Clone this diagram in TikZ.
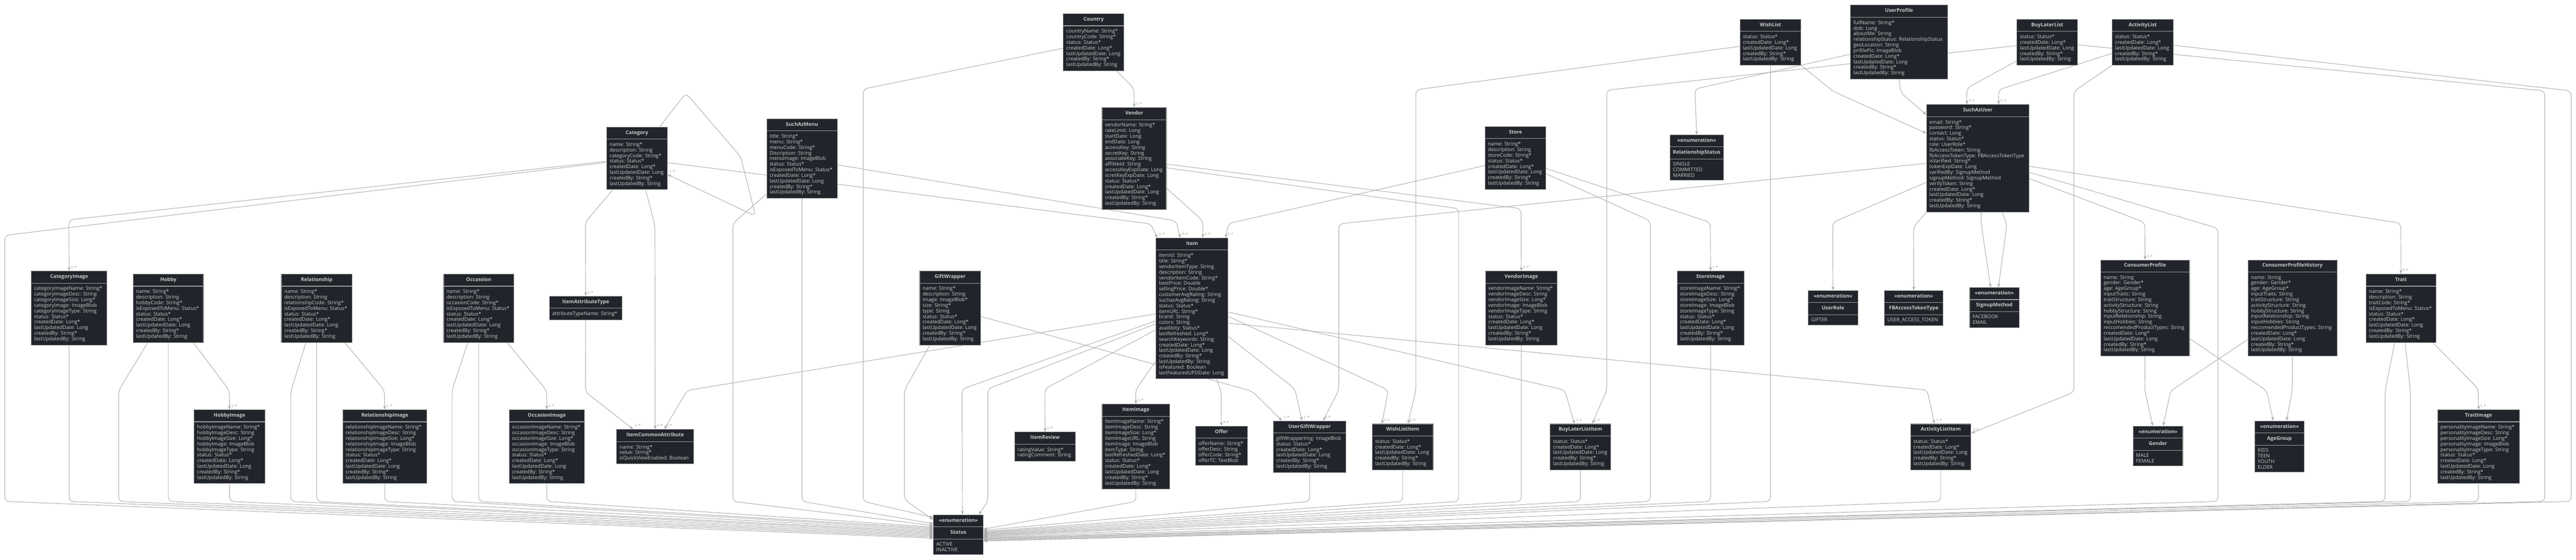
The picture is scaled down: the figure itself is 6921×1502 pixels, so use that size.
\documentclass[tikz,border=0pt]{standalone}
\usepackage{fontspec}
\setmainfont{Open Sans}
\usepackage{tikz}
\usetikzlibrary{shapes.multipart, arrows.meta, backgrounds}
\definecolor{boxfill}{HTML}{21252B}
\definecolor{boxline}{HTML}{A0A0A0}
\definecolor{boxtext}{HTML}{C9C9C9}
\definecolor{linkgray}{HTML}{A8A8A8}
\definecolor{lblgray}{HTML}{9C9C9C}

\begin{document}
\begin{tikzpicture}[x=1pt, y=-1pt,
  cls/.style={rectangle split, rectangle split parts=2,
    rectangle split part align={center,left},
    draw=boxline, line width=1.5pt, fill=boxfill, text=boxtext,
    font=\fontsize{13.5}{15}\selectfont, align=left,
    inner xsep=8pt, inner ysep=8pt, anchor=north west},
  enum/.style={cls, rectangle split parts=3,
    rectangle split part align={center,center,left}},
  link/.style={draw=linkgray, line width=1.3pt, rounded corners=12pt,
    -{Stealth[length=10pt, width=8pt, inset=3pt]}},
  lbl/.style={text=lblgray, font=\fontsize{11}{13}\selectfont,
    anchor=south west, inner sep=1pt, xshift=3pt, yshift=3pt}]

\useasboundingbox (0,0) rectangle (6921,1502);
\coordinate (rail) at (0,1346);

% menu side
\node[cls, minimum width=204pt] (catimg) at (83,727) {\textbf{\strut CategoryImage}
  \nodepart{second} categoryImageName: String*\\categoryImageDesc: String\\categoryImageSize: Long*\\categoryImage: ImageBlob\\categoryImageType: String\\status: Status*\\createdDate: Long*\\lastUpdatedDate: Long\\createdBy: String*\\lastUpdatedBy: String};
\node[cls, minimum width=189pt] (hobby) at (357,735) {\textbf{\strut Hobby}
  \nodepart{second} name: String*\\description: String\\hobbyCode: String*\\isExposedToMenu: Status*\\status: Status*\\createdDate: Long*\\lastUpdatedDate: Long\\createdBy: String*\\lastUpdatedBy: String};
\node[cls, minimum width=190pt] (rel) at (755,735) {\textbf{\strut Relationship}
  \nodepart{second} name: String*\\description: String\\relationshipCode: String*\\isExposedToMenu: Status*\\status: Status*\\createdDate: Long*\\lastUpdatedDate: Long\\createdBy: String*\\lastUpdatedBy: String};
\node[cls, minimum width=190pt] (himg) at (521,1099) {\textbf{\strut HobbyImage}
  \nodepart{second} hobbyImageName: String*\\hobbyImageDesc: String\\hobbyImageSize: Long*\\hobbyImage: ImageBlob\\hobbyImageType: String\\status: Status*\\createdDate: Long*\\lastUpdatedDate: Long\\createdBy: String*\\lastUpdatedBy: String};
\node[cls, minimum width=226pt] (rimg) at (920,1099) {\textbf{\strut RelationshipImage}
  \nodepart{second} relationshipImageName: String*\\relationshipImageDesc: String\\relationshipImageSize: Long*\\relationshipImage: ImageBlob\\relationshipImageType: String\\status: Status*\\createdDate: Long*\\lastUpdatedDate: Long\\createdBy: String*\\lastUpdatedBy: String};
\node[cls, minimum width=189pt] (occ) at (1191,735) {\textbf{\strut Occassion}
  \nodepart{second} name: String*\\description: String\\occasionCode: String*\\isExposedToMenu: Status*\\status: Status*\\createdDate: Long*\\lastUpdatedDate: Long\\createdBy: String*\\lastUpdatedBy: String};
\node[cls, minimum width=203pt] (oimg) at (1367,1099) {\textbf{\strut OccasionImage}
  \nodepart{second} occasionImageName: String*\\occasionImageDesc: String\\occasionImageSize: Long*\\occasionImage: ImageBlob\\occasionImageType: String\\status: Status*\\createdDate: Long*\\lastUpdatedDate: Long\\createdBy: String*\\lastUpdatedBy: String};
\node[cls, minimum width=163pt] (cat) at (1629,340) {\textbf{\strut Category}
  \nodepart{second} name: String*\\description: String\\categoryCode: String*\\status: Status*\\createdDate: Long*\\lastUpdatedDate: Long\\createdBy: String*\\lastUpdatedBy: String};
\node[cls, minimum width=196pt] (iat) at (1475,794) {\textbf{\strut ItemAttributeType}
  \nodepart{second} attributeTypeName: String*};
\node[cls, minimum width=207pt] (ica) at (1656,1152) {\textbf{\strut ItemCommonAttribute}
  \nodepart{second} name: String*\\value: String*\\isQuickViewEnabled: Boolean};
\node[cls, minimum width=190pt] (menu) at (2059,318) {\textbf{\strut SuchAzMenu}
  \nodepart{second} title: String*\\menu: String*\\menuCode: String*\\Discription: String\\menuImage: ImageBlob\\status: Status*\\isExposedToMenu: Status*\\createdDate: Long*\\lastUpdatedDate: Long\\createdBy: String*\\lastUpdatedBy: String};

% item side
\node[cls, minimum width=164pt] (gw) at (2470,727) {\textbf{\strut GiftWrapper}
  \nodepart{second} name: String*\\description: String\\image: ImageBlob*\\size: String*\\type: String\\status: Status*\\createdDate: Long*\\lastUpdatedDate: Long\\createdBy: String*\\lastUpdatedBy: String};
\node[cls, minimum width=163pt] (country) at (2856,36) {\textbf{\strut Country}
  \nodepart{second} countryName: String*\\countryCode: String*\\status: Status*\\createdDate: Long*\\lastUpdatedDate: Long\\createdBy: String*\\lastUpdatedBy: String};
\node[cls, minimum width=173pt] (vendor) at (2960,288) {\textbf{\strut Vendor}
  \nodepart{second} vendorName: String*\\rateLimit: Long\\startDate: Long\\endDate: Long\\accessKey: String\\secretKey: String\\associateKey: String\\affiliteId: String\\accessKeyExpDate: Long\\scretKeyExpDate: Long\\status: Status*\\createdDate: Long*\\lastUpdatedDate: Long\\createdBy: String*\\lastUpdatedBy: String};
\node[cls, minimum width=194pt] (item) at (3105,638) {\textbf{\strut Item}
  \nodepart{second} itemId: String*\\title: String*\\vendorItemType: String\\description: String\\vendorItemCode: String*\\bestPrice: Double\\sellingPrice: Double*\\customerAvgRating: String\\suchazAvgRating: String\\status: Status*\\itemURL: String*\\brand: String\\colors: String\\availibity: Status*\\lastRefreshed: Long*\\searchKeywords: String\\createdDate: Long*\\lastUpdatedDate: Long\\createdBy: String*\\lastUpdatedBy: String\\isFeatured: Boolean\\lastFeaturedUPDDate: Long};
\node[cls, minimum width=164pt] (review) at (2725,1159) {\textbf{\strut ItemReview}
  \nodepart{second} ratingValue: String*\\ratingComment: String};
\node[cls, minimum width=182pt] (itemimg) at (2960,1084) {\textbf{\strut ItemImage}
  \nodepart{second} itemImageName: String*\\itemImageDesc: String\\itemImageSize: Long*\\itemImageURL: String\\itemImage: ImageBlob\\itemType: String\\lastRefreshedDate: Long*\\status: Status*\\createdDate: Long*\\lastUpdatedDate: Long\\createdBy: String*\\lastUpdatedBy: String};
\node[cls, minimum width=140pt] (offer) at (3211,1143) {\textbf{\strut Offer}
  \nodepart{second} offerName: String*\\offerDesc: String\\offerCode: String*\\offerTC: TextBlob};
\node[cls, minimum width=196pt] (ugw) at (3420,1129) {\textbf{\strut UserGiftWrapper}
  \nodepart{second} giftWrapperImg: ImageBlob\\status: Status*\\createdDate: Long*\\lastUpdatedDate: Long\\createdBy: String*\\lastUpdatedBy: String};
\node[enum, minimum width=134pt] (status) at (2507,1381) {\textbf{\strut\textless\textless enumeration\textgreater\textgreater}
  \nodepart{second}\textbf{\strut Status} \nodepart{third} ACTIVE\\INACTIVE};
\node[cls, minimum width=164pt] (store) at (3989,339) {\textbf{\strut Store}
  \nodepart{second} name: String*\\description: String\\storeCode: String*\\status: Status*\\createdDate: Long*\\lastUpdatedDate: Long\\createdBy: String*\\lastUpdatedBy: String};
\node[cls, minimum width=193pt] (vimg) at (3990,727) {\textbf{\strut VendorImage}
  \nodepart{second} vendorImageName: String*\\vendorImageDesc: String\\vendorImageSize: Long*\\vendorImage: ImageBlob\\vendorImageType: String\\status: Status*\\createdDate: Long*\\lastUpdatedDate: Long\\createdBy: String*\\lastUpdatedBy: String};
\node[cls, minimum width=180pt] (simg) at (4505,727) {\textbf{\strut StoreImage}
  \nodepart{second} storeImageName: String*\\storeImageDesc: String\\storeImageSize: Long*\\storeImage: ImageBlob\\storeImageType: String\\status: Status*\\createdDate: Long*\\lastUpdatedDate: Long\\createdBy: String*\\lastUpdatedBy: String};
\node[cls, minimum width=164pt] (wli) at (3686,1137) {\textbf{\strut WishListItem}
  \nodepart{second} status: Status*\\createdDate: Long*\\lastUpdatedDate: Long\\createdBy: String*\\lastUpdatedBy: String};
\node[cls, minimum width=163pt] (blli) at (4164,1137) {\textbf{\strut BuyLaterListItem}
  \nodepart{second} status: Status*\\createdDate: Long*\\lastUpdatedDate: Long\\createdBy: String*\\lastUpdatedBy: String};

% user side
\node[enum, minimum width=135pt] (relstatus) at (4486,361) {\textbf{\strut\textless\textless enumeration\textgreater\textgreater}
  \nodepart{second}\textbf{\strut RelationshipStatus} \nodepart{third} SINGLE\\COMMITTED\\MARRIED};
\node[cls, minimum width=164pt] (wl) at (4674,51) {\textbf{\strut WishList}
  \nodepart{second} status: Status*\\createdDate: Long*\\lastUpdatedDate: Long\\createdBy: String*\\lastUpdatedBy: String};
\node[cls, minimum width=261pt] (up) at (4971,13) {\textbf{\strut UserProfile}
  \nodepart{second} fullName: String*\\dob: Long\\aboutMe: String\\relationshipStatus: RelationshipStatus\\geoLocation: String\\prifilePic: ImageBlob\\createdDate: Long*\\lastUpdatedDate: Long\\createdBy: String*\\lastUpdatedBy: String};
\node[cls, minimum width=163pt] (bll) at (5418,51) {\textbf{\strut BuyLaterList}
  \nodepart{second} status: Status*\\createdDate: Long*\\lastUpdatedDate: Long\\createdBy: String*\\lastUpdatedBy: String};
\node[cls, minimum width=164pt] (al) at (5674,51) {\textbf{\strut ActivityList}
  \nodepart{second} status: Status*\\createdDate: Long*\\lastUpdatedDate: Long\\createdBy: String*\\lastUpdatedBy: String};
\node[cls, minimum width=276pt] (user) at (5175,280) {\textbf{\strut SuchAzUser}
  \nodepart{second} email: String*\\password: String*\\contact: Long\\status: Status*\\role: UserRole*\\fbAccessToken: String\\fbAccessTokenType: FBAccessTokenType\\isVarified: String*\\tokenExpDate: Long\\varifiedBy: SignupMethod\\signupMethod: SignupMethod\\verifyToken: String\\createdDate: Long*\\lastUpdatedDate: Long\\createdBy: String*\\lastUpdatedBy: String};
\node[enum, minimum width=134pt] (userrole) at (4857,779) {\textbf{\strut\textless\textless enumeration\textgreater\textgreater}
  \nodepart{second}\textbf{\strut UserRole} \nodepart{third} GIFTER};
\node[enum, minimum width=158pt] (fbtype) at (5062,779) {\textbf{\strut\textless\textless enumeration\textgreater\textgreater}
  \nodepart{second}\textbf{\strut FBAccessTokenType} \nodepart{third} USER\_ACCESS\_TOKEN};
\node[enum, minimum width=133pt] (signup) at (5291,771) {\textbf{\strut\textless\textless enumeration\textgreater\textgreater}
  \nodepart{second}\textbf{\strut SignupMethod} \nodepart{third} FACEBOOK\\EMAIL};
\node[cls, minimum width=163pt] (ali) at (5132,1137) {\textbf{\strut ActivityListItem}
  \nodepart{second} status: Status*\\createdDate: Long*\\lastUpdatedDate: Long\\createdBy: String*\\lastUpdatedBy: String};
\node[cls, minimum width=239pt] (cp) at (5643,697) {\textbf{\strut ConsumerProfile}
  \nodepart{second} name: String\\gender: Gender*\\age: AgeGroup*\\inputTraits: String\\traitStructure: String\\activityStructure: String\\hobbyStructure: String\\inputReletionship: String\\inputHobbies: String\\reccomendedProductTypes: String\\createdDate: Long*\\lastUpdatedDate: Long\\createdBy: String*\\lastUpdatedBy: String};
\node[enum, minimum width=134pt] (gender) at (5730,1143) {\textbf{\strut\textless\textless enumeration\textgreater\textgreater}
  \nodepart{second}\textbf{\strut Gender} \nodepart{third} MALE\\FEMALE};
\node[cls, minimum width=239pt] (cph) at (6039,697) {\textbf{\strut ConsumerProfileHistory}
  \nodepart{second} name: String\\gender: Gender*\\age: AgeGroup*\\inputTraits: String\\traitStructure: String\\activityStructure: String\\hobbyStructure: String\\inputReletionship: String\\inputHobbies: String\\reccomendedProductTypes: String\\createdDate: Long*\\lastUpdatedDate: Long\\createdBy: String*\\lastUpdatedBy: String};
\node[enum, minimum width=133pt] (age) at (6057,1129) {\textbf{\strut\textless\textless enumeration\textgreater\textgreater}
  \nodepart{second}\textbf{\strut AgeGroup} \nodepart{third} KIDS\\TEEN\\YOUTH\\ELDER};
\node[cls, minimum width=188pt] (trait) at (6356,735) {\textbf{\strut Trait}
  \nodepart{second} name: String*\\description: String\\traitCode: String*\\isExposedToMenu: Status*\\status: Status*\\createdDate: Long*\\lastUpdatedDate: Long\\createdBy: String*\\lastUpdatedBy: String};
\node[cls, minimum width=221pt] (timg) at (6548,1099) {\textbf{\strut TraitImage}
  \nodepart{second} personalityImageName: String*\\personalityImageDesc: String\\personalityImageSize: Long*\\personalityImage: ImageBlob\\personalityImageType: String\\status: Status*\\createdDate: Long*\\lastUpdatedDate: Long\\createdBy: String*\\lastUpdatedBy: String};

\begin{pgfonlayer}{background}
% into Status from the left
\draw[link] ([yshift=-11pt]cat.west) -- (13,632) -- (13,1346) -- ([yshift=-9pt]status.west);
\draw[link] (catimg.south) -- (catimg.south |- rail) -- ([yshift=-6pt]status.west);
\draw[link] ([xshift=-55.5pt]hobby.south) -- (319,1048) -- (319,1346) -- ([yshift=-3pt]status.west);
\draw[link] (hobby.south) -- (hobby.south |- rail) -- (status.west);
\draw[link] (himg.south) -- (himg.south |- rail) -- ([yshift=3pt]status.west);
\draw[link] ([xshift=-29pt]rel.south) -- (781,1053) -- (781,1346) -- ([yshift=6pt]status.west);
\draw[link] (rel.south) -- (rel.south |- rail) -- ([yshift=9pt]status.west);
\draw[link] (rimg.south) -- (rimg.south |- rail) -- ([yshift=12pt]status.west);
\draw[link] ([xshift=-29.5pt]occ.south) -- (1215,1046) -- (1215,1346) -- ([yshift=15pt]status.west);
\draw[link] (occ.south) -- (occ.south |- rail) -- ([yshift=18pt]status.west);
\draw[link] (oimg.south) -- (oimg.south |- rail) -- ([yshift=21pt]status.west);
\draw[link] ([yshift=12pt]menu.south west) -- (1969,600) -- (1969,1346) -- ([yshift=25pt]status.west);
\draw[link] (menu.south) -- (menu.south |- rail) -- ([yshift=30pt]status.west);
\draw[link] ([yshift=-16pt]country.west) -- (2319,239) -- (2319,1346) -- ([yshift=-8pt]status.north west);
\draw[link] ([xshift=-55pt]gw.south) -- (2430,1047) -- (2430,1341) -- ([yshift=-14pt]status.north west);
\draw[link] ([yshift=-33.5pt]item.west) -- (2585,1044) -- ([xshift=11pt]status.north);
\draw[link] ([yshift=-41.5pt]item.west) -- (2654,1044) -- (2654,1346) -- ([xshift=55pt]status.north);

% into Status from the right
\draw[link] (itemimg.south) -- (itemimg.south |- rail) -- ([yshift=15pt]status.east);
\draw[link] (ugw.south) -- (ugw.south |- rail) -- ([yshift=12pt]status.east);
\draw[link] (wli.south) -- (wli.south |- rail) -- ([yshift=9pt]status.east);
\draw[link] ([yshift=-25pt]vendor.east) -- (3919,560) -- (3919,1346) -- ([yshift=7pt]status.east);
\draw[link] (vimg.south) -- (vimg.south |- rail) -- ([yshift=5pt]status.east);
\draw[link] (blli.south) -- (blli.south |- rail) -- ([yshift=3pt]status.east);
\draw[link] ([yshift=-42.5pt]store.east) -- (4434,593) -- (4434,1346) -- ([yshift=1pt]status.east);
\draw[link] (simg.south) -- (simg.south |- rail) -- ([yshift=-1pt]status.east);
\draw[link] (wl.south) -- (wl.south |- rail) -- ([yshift=-3pt]status.east);
\draw[link] (ali.south) -- (ali.south |- rail) -- ([yshift=-5pt]status.east);
\draw[link] ([yshift=-37.5pt]user.east) -- (5959,613) -- (5959,1346) -- ([yshift=-7pt]status.east);
\draw[link] ([xshift=-17pt]trait.south) -- (6408,1049) -- (6408,1346) -- ([yshift=-9pt]status.east);
\draw[link] ([xshift=11pt]trait.south) -- (6476,1049) -- (6476,1346) -- ([yshift=-11pt]status.east);
\draw[link] (timg.south) -- (timg.south |- rail) -- ([yshift=-13pt]status.east);
\draw[link] ([yshift=-7pt]bll.east) -- (6837,244) -- (6837,1346) -- ([yshift=-15pt]status.east);
\draw[link] ([yshift=-8pt]al.east) -- (6908,244) -- (6908,1346) -- ([yshift=-17pt]status.east);

% category and menu
\draw[link] ([yshift=-8pt]cat.west) -- (185,590) -- (catimg.north) node[lbl] {1-*};
\draw[link] ([xshift=67.5pt]hobby.south) -- (616,1048) -- (himg.north) node[lbl] {1-*};
\draw[link] ([xshift=76pt]rel.south) -- (1033,1048) -- (rimg.north) node[lbl] {1-*};
\draw[link] ([xshift=76.5pt]occ.south) -- (1468.5,1048) -- (oimg.north) node[lbl] {1-*};
\draw[link] ([xshift=-65.5pt]cat.south) -- (1573,596) -- (iat.north) node[lbl] {1-*};
\draw[link] ([xshift=23.5pt]cat.south) -- (1759.5,605) -- (ica.north) node[lbl] {1-*};
\draw[link] (iat.south) -- (1573,1052) -- ([xshift=45pt]ica.north west) node[lbl] {1-*};
\draw[link] ([yshift=-14.5pt]item.west) -- (1846,1048) -- ([xshift=129pt]ica.north west) node[lbl] {1-*};
\draw[link] ([xshift=61.5pt]cat.north) -- (1843,250) -- (1990,421) -- (2030,580) -- ([yshift=-43.5pt]cat.east) node[lbl] {1-*};

% into Item
\draw[link] ([yshift=-11.5pt]cat.east) -- (3092,601) -- ([xshift=4pt]item.north west) node[lbl] {1-*};
\draw[link] ([yshift=-17pt]menu.east) -- (3160,593) -- ([xshift=66pt]item.north west) node[lbl] {*-*};
\draw[link] ([yshift=-80pt]vendor.east) -- (3232,593) -- ([xshift=127pt]item.north west) node[lbl] {1-*};
\draw[link] ([yshift=-20.5pt]store.west) -- (3300,600) -- ([xshift=188pt]item.north west) node[lbl] {*-*};
\draw[link] ([xshift=62.5pt]country.south) -- (3046.5,237) -- (vendor.north) node[lbl] {1-*};
\draw[link] ([yshift=-15pt]vendor.east) -- (4086.5,560) -- (vimg.north) node[lbl] {1-*};
\draw[link] ([yshift=-28.5pt]store.east) -- (4595,597) -- (simg.north) node[lbl] {1-*};

% out of Item
\draw[link] ([yshift=-57.5pt]item.west) -- (2807,1044) -- (review.north) node[lbl] {1-*};
\draw[link] ([yshift=-141.5pt]item.west) -- (3051,1047) -- (itemimg.north) node[lbl] {1-*};
\draw[link] ([xshift=66pt]item.south) -- (3281,1053) -- (offer.north) node[lbl] {*-*};
\draw[link] ([yshift=-22.5pt]gw.east) -- (3364,1050) -- ([xshift=24pt]ugw.north west) node[lbl] {1-*};
\draw[link] ([yshift=-75.5pt]item.east) -- (3479,1044) -- ([xshift=78pt]ugw.north west) node[lbl] {1-*};
\draw[link] ([yshift=-21.5pt]item.east) -- (3730,1047) -- ([xshift=27pt]wli.north west) node[lbl] {1-*};
\draw[link] ([yshift=-9.5pt]item.east) -- (4204,1047) -- ([xshift=66pt]blli.north west) node[lbl] {1-*};
\draw[link] ([yshift=-39.5pt]item.east) -- (5178,1047) -- ([xshift=65pt]ali.north west) node[lbl] {1-*};

% lists and user
\draw[link] ([yshift=-11pt]wl.west) -- (3804,241) -- (3804,1047) -- ([xshift=97pt]wli.north west) node[lbl] {1-*};
\draw[link] ([yshift=-9pt]bll.west) -- (4317,242) -- (4317,1047) -- ([xshift=114pt]blli.north west) node[lbl] {1-*};
\draw[link] (al.south west) -- (5572,245) -- (5572,1053) -- ([yshift=37pt]ali.east) node[lbl] {1-*};
\draw[link] ([yshift=-30pt]al.west) -- (5369,241) -- ([xshift=56pt]user.north) node[lbl] {1-1};
\draw[link] ([yshift=-50pt]bll.west) -- (5284,237) -- ([xshift=-29pt]user.north) node[lbl] {1-1};
\draw[link] (wl.south east) -- (4925,245) -- ([yshift=67.5pt]user.west);
\draw[link] (up.south) -- (5107,249) -- ([yshift=117.5pt]user.west);
\draw[link] ([yshift=-32.5pt]up.west) -- (4553.5,239) -- (relstatus.north);
\draw[link] ([yshift=-64.5pt]user.west) -- (4924,597) -- (userrole.north);
\draw[link] (user.south west) -- (5141,609) -- (fbtype.north);
\draw[link] ([xshift=9pt]user.south) -- (5323,602) -- ([xshift=-10pt]signup.north);
\draw[link] ([xshift=65pt]user.south) -- (5392,602) -- ([xshift=11pt]signup.north);
\draw[link] ([yshift=-13.5pt]user.west) -- (3597,601) -- (3597,1047) -- ([xshift=135pt]ugw.north west) node[lbl] {1-*};
\draw[link] ([yshift=-54.5pt]user.east) -- (5762.5,597) -- (cp.north) node[lbl] {1-*};
\draw[link] ([yshift=-21.5pt]user.east) -- (6450,599) -- (trait.north) node[lbl] {*-*};
\draw[link] (cp.south) -- (5762.5,1049) -- ([xshift=-14pt]gender.north);
\draw[link] ([yshift=-82.5pt]cp.east) -- (6090,1049) -- ([xshift=-17pt]age.north);
\draw[link] ([yshift=-84.5pt]cph.west) -- (5832,1049) -- ([xshift=14pt]gender.north);
\draw[link] (cph.south) -- (6158.5,1049) -- ([xshift=19pt]age.north);
\draw[link] ([xshift=86pt]trait.south) -- (6658.5,1044) -- (timg.north) node[lbl] {1-*};
\end{pgfonlayer}

\end{tikzpicture}
\end{document}
